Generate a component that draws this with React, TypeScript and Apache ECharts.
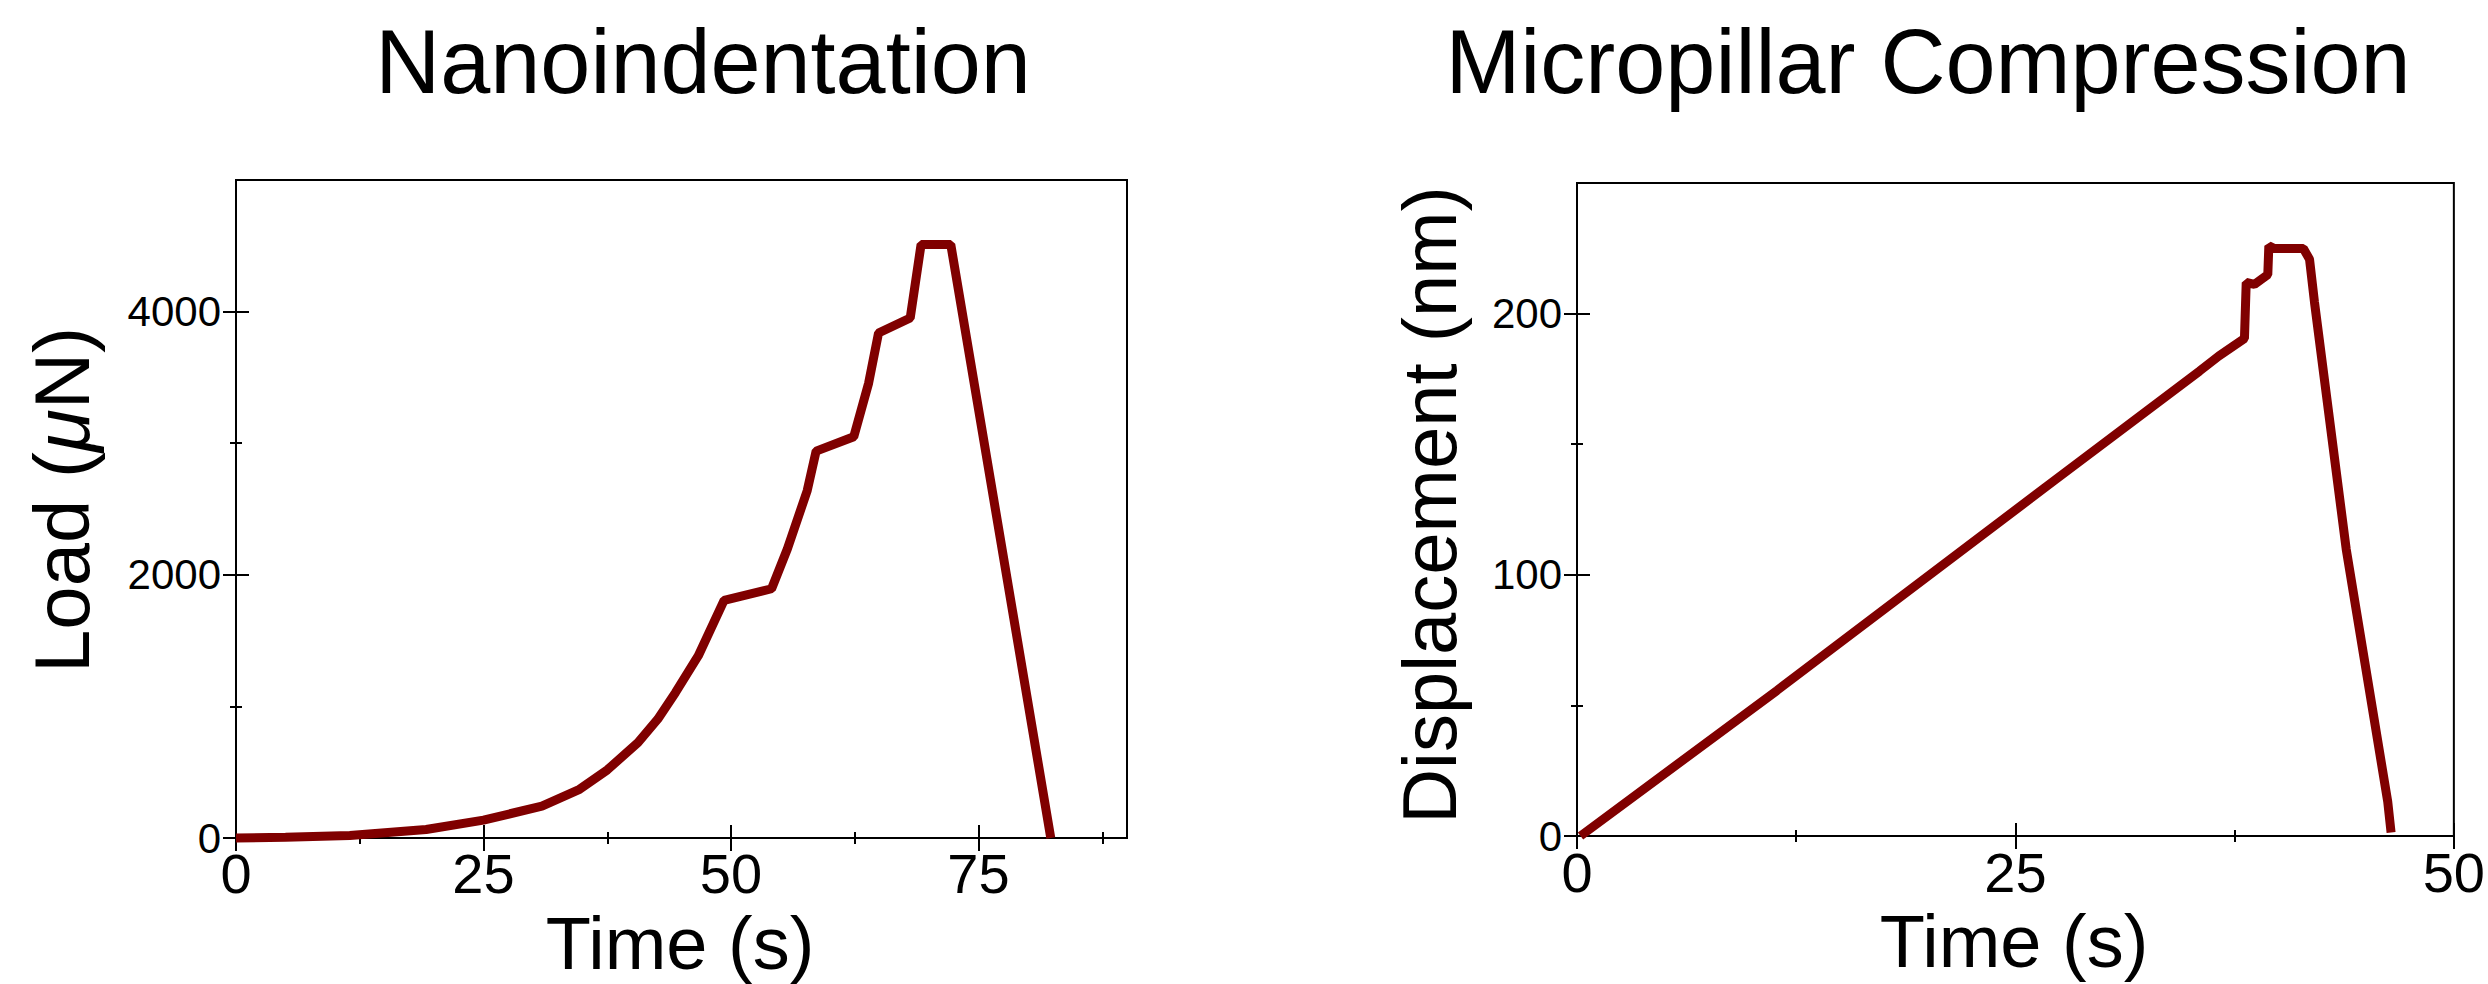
import React, { useEffect, useRef } from 'react';
import * as echarts from 'echarts';

const FONT = "'Liberation Sans', Arial, Helvetica, sans-serif";
const LINE_COLOR = '#800000';

// Nanoindentation: load (µN) vs time (s)
const nanoTime = [0, 5, 11.5, 19.2, 25, 30.9, 34.7, 37.5, 40.6, 42.6, 44.4, 46.7, 49.3, 54.1, 55.7, 57.7, 58.6, 62.4, 63.9, 64.9, 68.1, 69.2, 72.2, 82.3];
const nanoLoad = [0, 5, 19, 65, 136, 242, 370, 517, 725, 903, 1106, 1385, 1805, 1894, 2198, 2640, 2940, 3049, 3456, 3837, 3951, 4510, 4510, 0];

// Micropillar compression: displacement (nm) vs time (s)
const pillarTime = [0.2, 11.4, 27.2, 35.5, 36.6, 38.06, 38.16, 38.63, 39.39, 39.45, 39.77, 41.42, 41.77, 42.05, 43.86, 46.23, 46.42];
const pillarDisp = [0, 55.7, 136, 178, 183.8, 190.5, 211.9, 211.2, 214.9, 225.9, 224.9, 224.9, 220.8, 204.5, 109.9, 13.1, 1.3];

// Tick values
const nanoXMajor = [0, 25, 50, 75];
const nanoXMinor = [12.5, 37.5, 62.5, 87.5];
const nanoYMajor = [0, 2000, 4000];
const nanoYMinor = [1000, 3000];
const pillarXMajor = [0, 25, 50];
const pillarXMinor = [12.5, 37.5];
const pillarYMajor = [0, 100, 200];
const pillarYMinor = [50, 150];

const nanoXMax = 90;
const nanoYMax = 5000;
const pillarXMax = 50;
const pillarYMax = 250;

const titles = ['Nanoindentation', 'Micropillar Compression'];
const xNames = ['Time (s)', 'Time (s)'];
const yNames = ['Load ({mu|μ}N)', 'Displacement (nm)'];

function tickAxis(gridIndex: number, position: string, max: number, values: number[], length: number, label: any) {
  return {
    type: 'value',
    gridIndex,
    position,
    min: 0,
    max,
    axisLine: { show: false },
    splitLine: { show: false },
    axisTick: {
      show: true,
      inside: true,
      length,
      customValues: values,
      lineStyle: { color: '#000', width: 2 },
    },
    axisLabel: label
      ? {
          show: true,
          customValues: values,
          color: '#000',
          fontFamily: FONT,
          formatter: (v: number) => String(v),
          ...label,
        }
      : { show: false },
  };
}

function axesFor(gridIndex: number, horiz: boolean, max: number, major: number[], minor: number[], label: any) {
  const p1 = horiz ? 'bottom' : 'left';
  const p2 = horiz ? 'top' : 'right';
  return [
    tickAxis(gridIndex, p1, max, major, 13, label),
    tickAxis(gridIndex, p1, max, minor, 6, null),
    tickAxis(gridIndex, p2, max, major, 13, null),
    tickAxis(gridIndex, p2, max, minor, 6, null),
  ];
}

export default function App() {
  const ref = useRef<HTMLDivElement>(null);

  useEffect(() => {
    if (!ref.current) return;
    const chart = echarts.init(ref.current, null, { renderer: 'svg' });

    const xLabel = { fontSize: 56, lineHeight: 46, margin: 12 };
    const yLabel = { fontSize: 42, margin: 15 };

    const nameStyle = (text: string, size: number, extra: any = {}) => ({
      text,
      fontSize: size,
      fontFamily: FONT,
      fill: '#000',
      align: 'center',
      verticalAlign: 'middle',
      lineHeight: Math.round(size * 0.76),
      ...extra,
    });

    const option: any = {
      animation: false,
      backgroundColor: '#fff',
      grid: [
        { left: 236, top: 180, width: 891, height: 658, show: true, borderColor: '#000', borderWidth: 2, backgroundColor: 'transparent' },
        { left: 1577, top: 183, width: 878, height: 653, show: true, borderColor: '#000', borderWidth: 2, backgroundColor: 'transparent' },
      ],
      xAxis: [
        ...axesFor(0, true, nanoXMax, nanoXMajor, nanoXMinor, xLabel),
        ...axesFor(1, true, pillarXMax, pillarXMajor, pillarXMinor, { ...xLabel, margin: 13 }),
      ],
      yAxis: [
        ...axesFor(0, false, nanoYMax, nanoYMajor, nanoYMinor, yLabel),
        ...axesFor(1, false, pillarYMax, pillarYMajor, pillarYMinor, yLabel),
      ],
      series: [
        {
          type: 'line',
          name: titles[0],
          xAxisIndex: 0,
          yAxisIndex: 0,
          data: nanoTime.map((t, i) => [t, nanoLoad[i]]),
          showSymbol: false,
          symbol: 'none',
          clip: false,
          lineStyle: { color: LINE_COLOR, width: 9 },
          z: 5,
        },
        {
          type: 'line',
          name: titles[1],
          xAxisIndex: 4,
          yAxisIndex: 4,
          data: pillarTime.map((t, i) => [t, pillarDisp[i]]),
          showSymbol: false,
          symbol: 'none',
          clip: false,
          lineStyle: { color: LINE_COLOR, width: 9 },
          z: 5,
        },
      ],
      graphic: [
        { type: 'text', x: 703, y: 62, style: nameStyle(titles[0], 90) },
        { type: 'text', x: 1928, y: 62, style: nameStyle(titles[1], 90) },
        { type: 'text', x: 680, y: 943, style: nameStyle(xNames[0], 74) },
        { type: 'text', x: 2014, y: 941, style: nameStyle(xNames[1], 74) },
        {
          type: 'text', x: 62, y: 500, rotation: Math.PI / 2,
          style: nameStyle(yNames[0], 78, {
            rich: { mu: { fontSize: 78, fontFamily: FONT, fontStyle: 'italic', fill: '#000' } },
          }),
        },
        { type: 'text', x: 1429, y: 505, rotation: Math.PI / 2, style: nameStyle(yNames[1], 76) },
      ],
    };

    chart.setOption(option);
    return () => chart.dispose();
  }, []);

  return (
    <div
      ref={ref}
      style={{ position: 'absolute', left: 0, top: 0, width: 2488, height: 984, background: '#fff' }}
    />
  );
}
